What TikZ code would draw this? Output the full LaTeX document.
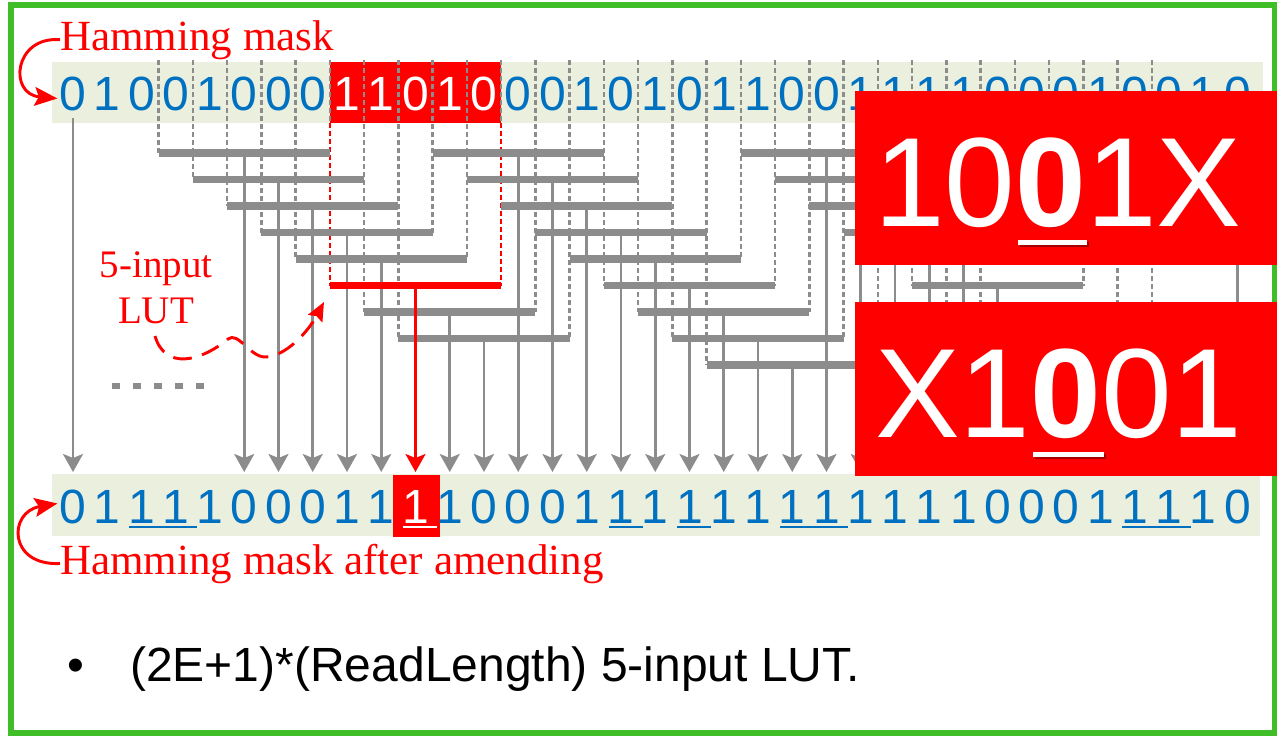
\documentclass[tikz,border=0pt]{standalone}
\usepackage{fontspec}
\newfontfamily\arialf{Liberation Sans}
\newfontfamily\timesf{Liberation Serif}
\usetikzlibrary{arrows.meta,calc}
\definecolor{lutgray}{RGB}{140,140,140}
\definecolor{bitblue}{RGB}{0,112,192}
\definecolor{bandc}{RGB}{235,239,222}
\definecolor{framegreen}{RGB}{64,190,40}
\definecolor{shadowred}{RGB}{165,0,0}
\definecolor{pptred}{RGB}{255,0,0}
\begin{document}
\begin{tikzpicture}[x=0.75pt,y=-0.75pt,
  bit/.style={font=\arialf\fontsize{36pt}{40pt}\selectfont, text=bitblue, anchor=base, inner sep=0pt},
  lutbar/.style={draw=lutgray, line width=5.6pt},
  outarrow/.style={draw=lutgray, line width=2pt, -{Stealth[length=13.5pt,width=15pt,inset=3pt]}},
  feed/.style={draw=lutgray, line width=2pt, dash pattern=on 3.5pt off 2.5pt},
  redlbl/.style={text=pptred, inner sep=0pt, font=\timesf\fontsize{32.25pt}{36pt}\selectfont},
  redarrow/.style={draw=pptred, line width=2.2pt, -{Stealth[length=17pt,width=14pt,inset=3pt]}},
  wave/.style={draw=pptred, line width=2.2pt, dash pattern=on 14pt off 8pt, -{Stealth[length=14pt,width=12pt,inset=2pt]}},
  bigtxt/.style={anchor=base west, inner sep=0pt, font=\arialf\fontsize{95.25pt}{100pt}\selectfont},
  zshadow/.style={draw=shadowred, line width=5pt}
]
\useasboundingbox (0,0) rectangle (1277,736);

% bands
\fill[bandc] (52,62) rectangle (1263,123);
\fill[bandc] (52,474) rectangle (1260,536);
\fill[pptred] (329.8,62) rectangle (501.1,123);
\fill[pptred] (393,475) rectangle (440,537);

% dashed feed lines
\foreach \k/\l in {0/1,1/2,2/3,3/4,4/5,6/7,7/8,8/4,9/5,11/7,12/8,13/6,14/7,15/8,16/9,17/5,18/6,19/7,20/8,21/9,22/6,23/7,24/8,25/4,26/5,27/6,28/7,29/8}{
  \pgfmathsetmacro\xx{158.6+34.25*\k}
  \pgfmathsetmacro\yy{153+26.5*(\l-1)}
  \draw[feed] (\xx,60) -- (\xx,\yy);
}
\foreach \k in {5,10}{
  \pgfmathsetmacro\xx{158.6+34.25*\k}
  \draw[feed] (\xx,60) -- (\xx,123);
  \draw[feed,draw=pptred] (\xx,123) -- (\xx,285.5);
}

% LUT bars and outputs
\foreach \k/\l in {0/1,1/2,2/3,3/4,4/5,6/7,7/8,8/1,9/2,10/3,11/4,12/5,13/6,14/7,15/8,16/9,17/1,18/2,19/3,20/4,21/5,22/6,23/7,24/8}{
  \pgfmathsetmacro\xa{158.6+34.25*\k}
  \pgfmathsetmacro\xb{\xa+171.25}
  \pgfmathsetmacro\xc{\xa+85.625}
  \pgfmathsetmacro\yy{153+26.5*(\l-1)}
  \coordinate (lut\k) at (\xc,\yy);
  \draw[lutbar] (\xa,\yy) -- (\xb,\yy);
  \draw[outarrow] (lut\k) -- (\xc,472);
}
% straight first and last
\draw[outarrow] (73,118) -- (73,472);
\draw[outarrow] (1237.5,123) -- (1237.5,472);

% highlighted LUT
\coordinate (redL) at (329.85,285.5);
\coordinate (redR) at (501.1,285.5);
\coordinate (lut5) at (415.5,285.5);
\draw[line width=5.6pt, draw=pptred] (redL) -- (redR);
\draw[line width=2pt, draw=pptred, -{Stealth[length=13.5pt,width=15pt,inset=3pt]}] (lut5) -- (415.5,472);

% digits
\foreach \v [count=\i from 0] in {0,1,0,0,1,0,0,0,1,1,0,1,0,0,0,1,0,1,0,1,1,0,0,1,1,1,1,0,0,0,1,0,0,1,0}{
  \pgfmathsetmacro\xx{73+34.25*\i}
  \ifnum\i>7\relax\ifnum\i<13\relax\def\bc{white}\else\def\bc{bitblue}\fi\else\def\bc{bitblue}\fi
  \node[bit,text=\bc] (t\i) at (\xx,110) {\v};
}
\foreach \v [count=\i from 0] in {0,1,1,1,1,0,0,0,1,1,1,1,0,0,0,1,1,1,1,1,1,1,1,1,1,1,1,0,0,0,1,1,1,1,0}{
  \pgfmathsetmacro\xx{73+34.25*\i}
  \ifnum\i=10\relax\def\bc{white}\else\def\bc{bitblue}\fi
  \node[bit,text=\bc] (b\i) at (\xx,523) {\v};
}
% underlines
\foreach \a/\b in {2/3,16/16,18/18,21/22,31/32}{
  \fill[bitblue] ({73+34.25*\a-12.5},525.6) rectangle ({73+34.25*\b+21.5},528.4);
}
\fill[white] ({73+34.25*10-12.5},525.6) rectangle ({73+34.25*10+21.5},528.4);

% dots
\draw[lutgray, line width=4.5pt, dash pattern=on 6pt off 9.75pt] (112,386) -- (210,386);

% labels
\node[redlbl, anchor=base west] (hm) at (60,50) {Hamming mask};
\node[redlbl, anchor=base west] (hma) at (60,574) {Hamming mask after amending};
\draw[redarrow] (hm.west) .. controls (14,36) and (8,94) .. ($(t0.west)+(-2,5)$);
\draw[redarrow] (hma.west) .. controls (8,566) and (8,512) .. ($(b0.west)+(-2,-3)$);

\node[text=pptred, inner sep=0pt, anchor=base, font=\timesf\fontsize{29.25pt}{34pt}\selectfont] (lutA) at (156,277) {5-input};
\node[text=pptred, inner sep=0pt, anchor=base, font=\timesf\fontsize{29.25pt}{34pt}\selectfont] (lutB) at (156,323) {LUT};
\coordinate (w0) at (155,336);
\coordinate (w1) at (324,302);
\draw[wave] (w0) .. controls (165,370) and (200,362) .. (228,339) .. controls (238,331) and (250,357) .. (265,357) .. controls (285,357) and (308,332) .. (w1);

% frame
\draw[framegreen, line width=4.2pt] (11,5) rectangle (1275,733);

% big red boxes
\fill[pptred] (855,91) rectangle (1277,265);
\fill[pptred] (855,302) rectangle (1277,476);
\draw[zshadow] (1052.5,183) ellipse [x radius=21, y radius=41.5];
\fill[shadowred] (1019.5,241.5) rectangle (1088.5,246.5);
\node[bigtxt, text=white] (k1) at (874,226) {10{\bfseries 0}1X};
\fill[white] (1018,240) rectangle (1087,245);
\draw[zshadow] (1067.6,393.5) ellipse [x radius=21, y radius=41.5];
\fill[shadowred] (1034.5,453.5) rectangle (1105.5,458.5);
\node[bigtxt, text=white] (k2) at (875,437) {X1{\bfseries 0}01};
\fill[white] (1033,452) rectangle (1104,457);

% bullet text
\node[anchor=base, inner sep=0pt, font=\arialf\fontsize{36pt}{40pt}\selectfont] (bul) at (76,681) {•};
\node[anchor=base west, inner sep=0pt, font=\arialf\fontsize{36pt}{40pt}\selectfont] (btxt) at (130,681) {(2E+1)*(ReadLength) 5-input LUT.};
\end{tikzpicture}
\end{document}
